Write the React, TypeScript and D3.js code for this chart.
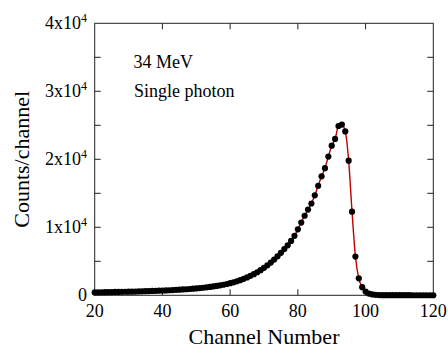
import React from "react";
import * as d3 from "d3";

const channels: number[] = d3.range(20, 121);
const counts: number[] = [
  430, 440, 450, 460, 470, 480, 490, 500, 510, 520,
  530, 540, 555, 570, 585, 600, 620, 640, 660, 680,
  700, 720, 745, 770, 800, 830, 860, 890, 930, 970,
  1010, 1060, 1110, 1170, 1230, 1300, 1380, 1460, 1550, 1660,
  1780, 1910, 2060, 2230, 2420, 2630, 2860, 3110, 3390, 3700,
  4040, 4410, 4810, 5250, 5730, 6250, 6800, 7350, 8000, 8750,
  9700, 10700, 11700, 12600, 13500, 14700, 16100, 17500, 18700, 20400,
  22000, 23000, 24900, 25100, 24100, 19800, 12300, 5700, 2500, 1200,
  550, 260, 130, 70, 40, 25, 20, 18, 16, 15,
  14, 13, 12, 12, 11, 11, 10, 10, 10, 10,
  10,
];
const xTicks: number[] = [20, 40, 60, 80, 100, 120];
const yMajor: number[] = [0, 10000, 20000, 30000, 40000];
const yMinor: number[] = [5000, 15000, 25000, 35000];
const yLabels: string[] = ["0", "1x10", "2x10", "3x10", "4x10"];
const annotations: string[] = ["34 MeV", "Single photon"];

const W = 448;
const H = 348;
const L = 94.7;
const R = 433.3;
const T = 23.3;
const B = 295.3;

export default function App() {
  const x = d3.scaleLinear().domain([20, 120]).range([L, R]);
  const y = d3.scaleLinear().domain([0, 40000]).range([B, T]);
  const data = channels.map((c, i) => ({ c, v: counts[i] }));
  const line = d3
    .line<{ c: number; v: number }>()
    .x((d) => x(d.c))
    .y((d) => y(d.v))
    .curve(d3.curveMonotoneX);
  const font = "'Liberation Serif', 'Times New Roman', serif";
  const tl = 6;
  return (
    <svg
      width={W}
      height={H}
      style={{ position: "absolute", left: 0, top: 0, background: "#fff" }}
      fontFamily={font}
    >
      <rect x={L} y={T} width={R - L} height={B - T} fill="none" stroke="#222" strokeWidth={1} />
      {xTicks.slice(1, -1).map((t) => (
        <g key={"xt" + t} stroke="#222" strokeWidth={1}>
          <line x1={x(t)} x2={x(t)} y1={B} y2={B - tl} />
          <line x1={x(t)} x2={x(t)} y1={T} y2={T + tl} />
        </g>
      ))}
      {[...yMajor.slice(1, -1), ...yMinor].map((t) => (
        <g key={"yt" + t} stroke="#222" strokeWidth={1}>
          <line x1={L} x2={L + tl} y1={y(t)} y2={y(t)} />
          <line x1={R} x2={R - tl} y1={y(t)} y2={y(t)} />
        </g>
      ))}
      {xTicks.map((t) => (
        <text key={"xl" + t} x={x(t)} y={316.5} fontSize={18} textAnchor="middle" fill="#000">
          {t}
        </text>
      ))}
      {yMajor.map((t, i) => (
        <text key={"yl" + t} x={87} y={y(t) + 5.5} fontSize={18} textAnchor="end" fill="#000">
          {yLabels[i]}
          {i > 0 && (
            <tspan fontSize={12} dy={-7}>
              4
            </tspan>
          )}
        </text>
      ))}
      <text x={(L + R) / 2} y={344} fontSize={22} textAnchor="middle" fill="#000">
        Channel Number
      </text>
      <text
        transform={`translate(29, ${(T + B) / 2}) rotate(-90)`}
        fontSize={22}
        textAnchor="middle"
        fill="#000"
      >
        Counts/channel
      </text>
      <text x={133.5} y={68} fontSize={18} fill="#000">
        {annotations[0]}
      </text>
      <text x={134} y={97} fontSize={18} fill="#000">
        {annotations[1]}
      </text>
      <path d={line(data) || ""} fill="none" stroke="#c00000" strokeWidth={1.4} />
      {data.map((d) => (
        <circle key={d.c} cx={x(d.c)} cy={y(d.v)} r={3.1} fill="#000" />
      ))}
    </svg>
  );
}
